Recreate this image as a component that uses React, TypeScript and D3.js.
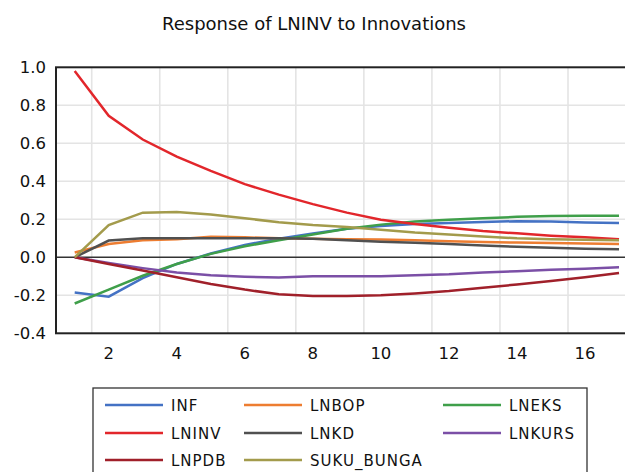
import React from "react";
import * as d3 from "d3";

const periods = d3.range(1, 18);
const seriesNames = ["INF", "LNBOP", "LNEKS", "LNINV", "LNKD", "LNKURS", "LNPDB", "SUKU_BUNGA"];
const seriesColors = ["#4472c4", "#ed7d31", "#3f9f4a", "#e2262b", "#505050", "#7b4fa6", "#a0202a", "#a39b4c"];

const INF = [-0.185, -0.207, -0.11, -0.035, 0.02, 0.065, 0.098, 0.125, 0.15, 0.165, 0.175, 0.18, 0.186, 0.19, 0.188, 0.183, 0.18];
const LNBOP = [0.025, 0.07, 0.09, 0.095, 0.108, 0.105, 0.1, 0.097, 0.095, 0.094, 0.09, 0.084, 0.08, 0.078, 0.075, 0.072, 0.07];
const LNEKS = [-0.243, -0.17, -0.097, -0.035, 0.018, 0.058, 0.09, 0.12, 0.15, 0.172, 0.188, 0.198, 0.205, 0.213, 0.218, 0.219, 0.219];
const LNINV = [0.98, 0.745, 0.62, 0.53, 0.455, 0.385, 0.33, 0.28, 0.235, 0.198, 0.175, 0.156, 0.138, 0.126, 0.114, 0.105, 0.095];
const LNKD = [0.0, 0.088, 0.1, 0.1, 0.1, 0.1, 0.1, 0.097, 0.09, 0.082, 0.076, 0.07, 0.062, 0.055, 0.05, 0.045, 0.043];
const LNKURS = [0.0, -0.03, -0.057, -0.08, -0.095, -0.102, -0.106, -0.1, -0.1, -0.1, -0.094, -0.089, -0.08, -0.073, -0.066, -0.06, -0.053];
const LNPDB = [0.0, -0.035, -0.07, -0.105, -0.14, -0.17, -0.195, -0.204, -0.204, -0.2, -0.19, -0.177, -0.16, -0.143, -0.125, -0.105, -0.083];
const SUKU_BUNGA = [0.0, 0.17, 0.235, 0.238, 0.225, 0.205, 0.185, 0.17, 0.16, 0.145, 0.13, 0.12, 0.11, 0.1, 0.095, 0.092, 0.09];

const seriesValues = [INF, LNBOP, LNEKS, LNINV, LNKD, LNKURS, LNPDB, SUKU_BUNGA];
const yTicks = [-0.4, -0.2, 0.0, 0.2, 0.4, 0.6, 0.8, 1.0];
const xTicks = [2, 4, 6, 8, 10, 12, 14, 16];
const gridX = [1.5, 3.5, 5.5, 7.5, 9.5, 11.5, 13.5, 15.5];

const title = "Response of LNINV to Innovations";

export default function App() {
  const W = 625, H = 472;
  const left = 56, top = 67.3, bottom = 333.3;
  const x = d3.scaleLinear().domain([1, 17]).range([74.7, 74.7 + 16 * 34.02]);
  const right = x(17.5);
  const y = d3.scaleLinear().domain([-0.4, 1.0]).range([bottom, top]);
  const line = d3.line<number>().x((_, i) => x(periods[i])).y((d) => y(d));
  const font = "'DejaVu Sans', Verdana, sans-serif";

  const legendCols = [105, 244, 443];
  const legendRows = [405, 433, 460];

  return (
    <svg width={W} height={H} style={{ display: "block", position: "absolute", left: 0, top: 0 }} fontFamily={font}>
      <rect x={0} y={0} width={W} height={H} fill="#fff" />
      <text x={314} y={30} textAnchor="middle" fontSize={18} fill="#111">{title}</text>
      {yTicks.filter((t) => Math.abs(t) > 1e-9 && t < 0.99 && t > -0.39).map((t) => (
        <line key={"gy" + t} x1={left} x2={right} y1={y(t)} y2={y(t)} stroke="#e4e4e4" strokeWidth={1.6} />
      ))}
      {gridX.map((g) => (
        <line key={"gx" + g} x1={x(g)} x2={x(g)} y1={top} y2={bottom} stroke="#e4e4e4" strokeWidth={1.6} />
      ))}
      <line x1={left} x2={right} y1={y(0)} y2={y(0)} stroke="#333" strokeWidth={1.6} />
      {seriesValues.map((vals, i) => (
        <path key={seriesNames[i]} d={line(vals) || ""} fill="none" stroke={seriesColors[i]} strokeWidth={2.5} />
      ))}
      <rect x={left} y={top} width={right - left} height={bottom - top} fill="none" stroke="#222" strokeWidth={2} />
      {yTicks.map((t) => (
        <text key={"yt" + t} x={46} y={y(t) + 6} textAnchor="end" fontSize={16.5} fill="#111">{t.toFixed(1)}</text>
      ))}
      {xTicks.map((t) => (
        <text key={"xt" + t} x={x(t)} y={359} textAnchor="middle" fontSize={16.5} fill="#111">{t}</text>
      ))}
      <rect x={93} y={388} width={494} height={95} fill="none" stroke="#333" strokeWidth={1.3} />
      {seriesNames.map((n, i) => {
        const col = legendCols[i % 3];
        const row = legendRows[Math.floor(i / 3)];
        return (
          <g key={"lg" + n}>
            <line x1={col} x2={col + 58} y1={row} y2={row} stroke={seriesColors[i]} strokeWidth={2.5} />
            <text x={col + 66} y={row + 5.5} fontSize={15} fill="#111" letterSpacing={1}>{n}</text>
          </g>
        );
      })}
    </svg>
  );
}
